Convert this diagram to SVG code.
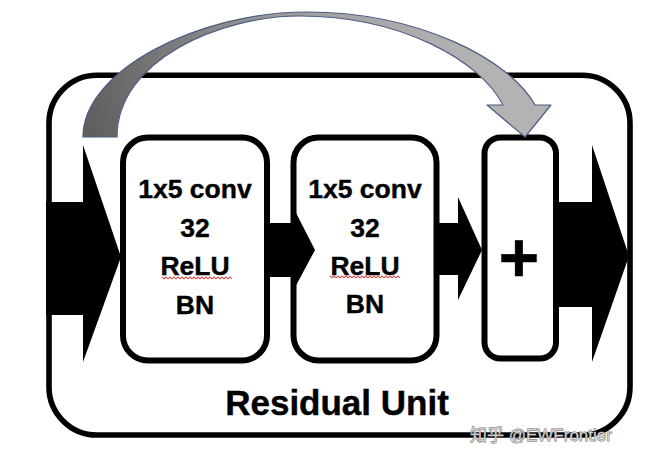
<svg xmlns="http://www.w3.org/2000/svg" width="659" height="461" viewBox="0 0 659 461">
  <defs>
    <style>
      .box { fill: #ffffff; stroke: #000000; stroke-width: 6; }
      .outer { fill: #ffffff; stroke: #000000; stroke-width: 5.6; }
      .lbl { font-family: "Liberation Sans", Arial, sans-serif; font-weight: bold; font-size: 26.5px; fill: #000000; text-anchor: middle; stroke: #000000; stroke-width: 0.4; }
      .blk { fill: #000000; stroke: none; }
      .squig { fill: none; stroke: #d9534f; stroke-width: 1.1; }
      .wm { font-family: "Liberation Sans", "Noto Sans CJK SC", sans-serif; font-size: 17px; fill: #d0d0d0; stroke: #6a6a6a; stroke-width: 0.8; paint-order: stroke; }
    </style>
    <linearGradient id="curveFill" gradientUnits="userSpaceOnUse" x1="90" y1="140" x2="470" y2="40">
      <stop offset="0" stop-color="#5e5e5e"/>
      <stop offset="0.55" stop-color="#9c9c9c"/>
      <stop offset="1" stop-color="#b3b3b3"/>
    </linearGradient>
    <path id="squiggle" class="squig" d="M0,0 l2,1.8 l2,-1.8 l2,1.8 l2,-1.8 l2,1.8 l2,-1.8 l2,1.8 l2,-1.8 l2,1.8 l2,-1.8 l2,1.8 l2,-1.8 l2,1.8 l2,-1.8 l2,1.8 l2,-1.8 l2,1.8 l2,-1.8 l2,1.8 l2,-1.8 l2,1.8 l2,-1.8 l2,1.8 l2,-1.8 l2,1.8 l2,-1.8 l2,1.8 l2,-1.8 l2,1.8 l2,-1.8 l2,1.8 l2,-1.8 l2,1.8 l2,-1.8 l2,1.8"/>
  </defs>

  <rect width="659" height="461" fill="#ffffff"/>

  <g id="residual-unit">
    <rect class="outer" x="49" y="75.2" width="581" height="359.8" rx="48" ry="48"/>
    <text x="337" y="415" class="lbl" style="font-size:35px">Residual Unit</text>
  </g>

  <g id="conv1">
    <rect class="box" x="123" y="137.5" width="144" height="223" rx="25" ry="25"/>
    <text class="lbl" x="195" y="198">1x5 conv</text>
    <text class="lbl" x="195" y="237">32</text>
    <text class="lbl" x="195" y="275">ReLU</text>
    <use href="#squiggle" x="162" y="277"/>
    <text class="lbl" x="195" y="314">BN</text>
  </g>

  <g id="conv2">
    <rect class="box" x="293.5" y="137.5" width="143" height="223" rx="25" ry="25"/>
    <text class="lbl" x="365" y="198">1x5 conv</text>
    <text class="lbl" x="365" y="237">32</text>
    <text class="lbl" x="365" y="275">ReLU</text>
    <use href="#squiggle" x="330" y="276"/>
    <text class="lbl" x="365" y="313">BN</text>
  </g>

  <g id="add">
    <rect class="box" x="484.5" y="137.5" width="71.5" height="221" rx="16" ry="16"/>
    <text class="lbl" x="519" y="282" style="font-size:70px">+</text>
  </g>

  <g id="connectors">
    <polygon class="blk" points="46,202 83,202 83,145 121,257 83,362 83,315 46,315"/>
    <polygon class="blk" points="266,223 292,223 292,205 315,250 292,293 292,277 266,277"/>
    <polygon class="blk" points="436,223 458,223 458,197 482,250 458,300 458,275 436,275"/>
    <polygon class="blk" points="556,202 592,202 592,145 629,256 592,362 592,307 556,307"/>
    <path d="M83,137 C83,70 200,12 306,12 C420,12 510,60 535,105 L551,105 L525,137 L487,105 L503,105 C480,60 400,16 300,16 C220,16 117,60 117,137 Z" fill="url(#curveFill)" stroke="#4d5d85" stroke-width="1.2" stroke-linejoin="round"/>
  </g>

  <text class="wm" x="470" y="441">知乎 @EWFrontier</text>
</svg>
